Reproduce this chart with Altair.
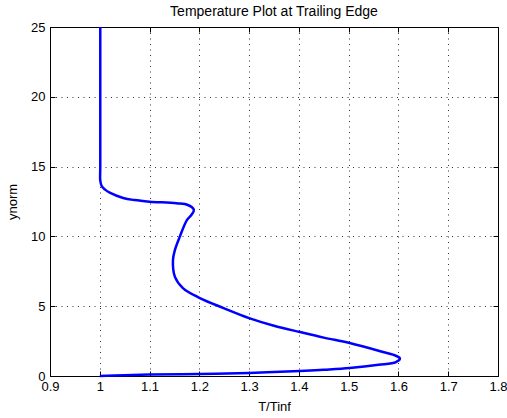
import altair as alt
import pandas as pd

# Curve (in path order, from top to bottom)
t_vals = [1.001, 1.001, 1.001, 1.001, 1.004, 1.01, 1.02, 1.047, 1.07, 1.10, 1.154,
          1.177, 1.189, 1.184, 1.175, 1.161, 1.151, 1.147, 1.151, 1.167, 1.20,
          1.25, 1.30, 1.35, 1.402, 1.45, 1.502, 1.569, 1.595, 1.603, 1.595,
          1.56, 1.502, 1.45, 1.402, 1.30, 1.20, 1.10, 1.05, 1.0]
y_vals = [25.0, 20.0, 15.0, 14.0, 13.6, 13.37, 13.13, 12.75, 12.6, 12.49, 12.37,
          12.25, 11.9, 11.53, 11.17, 10.0, 9.03, 8.3, 7.1, 6.3, 5.6,
          4.85, 4.15, 3.6, 3.15, 2.75, 2.36, 1.72, 1.45, 1.25, 1.0,
          0.8, 0.57, 0.45, 0.36, 0.22, 0.14, 0.10, 0.06, 0.0]

x_ticks = [0.9, 1.0, 1.1, 1.2, 1.3, 1.4, 1.5, 1.6, 1.7, 1.8]
y_ticks = [0, 5, 10, 15, 20, 25]

df = pd.DataFrame({"t": t_vals, "y": y_vals, "i": list(range(len(t_vals)))})

FONT = "Liberation Sans"
xs = alt.Scale(domain=[0.9, 1.8], nice=False, zero=False)
ys = alt.Scale(domain=[0, 25], nice=False, zero=False)

base = alt.Chart(df).encode(order="i:Q")

main = base.mark_line(color="#0000ff", strokeWidth=2.5,
                      interpolate="catmull-rom").encode(
    x=alt.X("t:Q", scale=xs, axis=alt.Axis(
        orient="bottom", values=x_ticks, format="~g", title="T/Tinf",
        grid=True, gridColor="black", gridDash=[1, 4.5], gridOpacity=0.8,
        tickSize=0, domain=False, labelPadding=4, labelFont=FONT,
        labelFontSize=13, labelColor="black", titleFont=FONT,
        titleFontSize=13, titleFontWeight="normal", titleColor="black",
        titlePadding=7, labelFlush=False)),
    y=alt.Y("y:Q", scale=ys, axis=alt.Axis(
        orient="left", values=y_ticks, title="ynorm",
        grid=True, gridColor="black", gridDash=[1, 4.5], gridOpacity=0.8,
        tickSize=0, domain=False, labelPadding=5, labelFont=FONT,
        labelFontSize=13, labelColor="black", titleFont=FONT,
        titleFontSize=13, titleFontWeight="normal", titleColor="black",
        titlePadding=11, labelFlush=False)),
)


def tick_layer(xo, yo):
    return base.mark_line(opacity=0).encode(
        x=alt.X("t:Q", scale=xs, axis=alt.Axis(
            orient=xo, values=x_ticks, labels=False, title=None, grid=False,
            domain=False, tickSize=5, offset=-5, tickColor="black",
            minExtent=0, maxExtent=0)),
        y=alt.Y("y:Q", scale=ys, axis=alt.Axis(
            orient=yo, values=y_ticks, labels=False, title=None, grid=False,
            domain=False, tickSize=5, offset=-5, tickColor="black",
            minExtent=0, maxExtent=0)),
    )


chart = alt.layer(
    main, tick_layer("bottom", "left"), tick_layer("top", "right")
).resolve_axis(x="independent", y="independent").properties(
    width=448, height=349,
    title=alt.Title("Temperature Plot at Trailing Edge", font=FONT,
                    fontSize=14, fontWeight="normal", color="black",
                    anchor="middle", offset=2),
    autosize=alt.AutoSizeParams(type="none"),
    padding={"left": 50, "top": 27, "right": 9, "bottom": 42},
    background="white",
).configure_view(stroke="black", strokeWidth=1)

chart.save("out.html", embed_options={"renderer": "svg", "actions": False})
